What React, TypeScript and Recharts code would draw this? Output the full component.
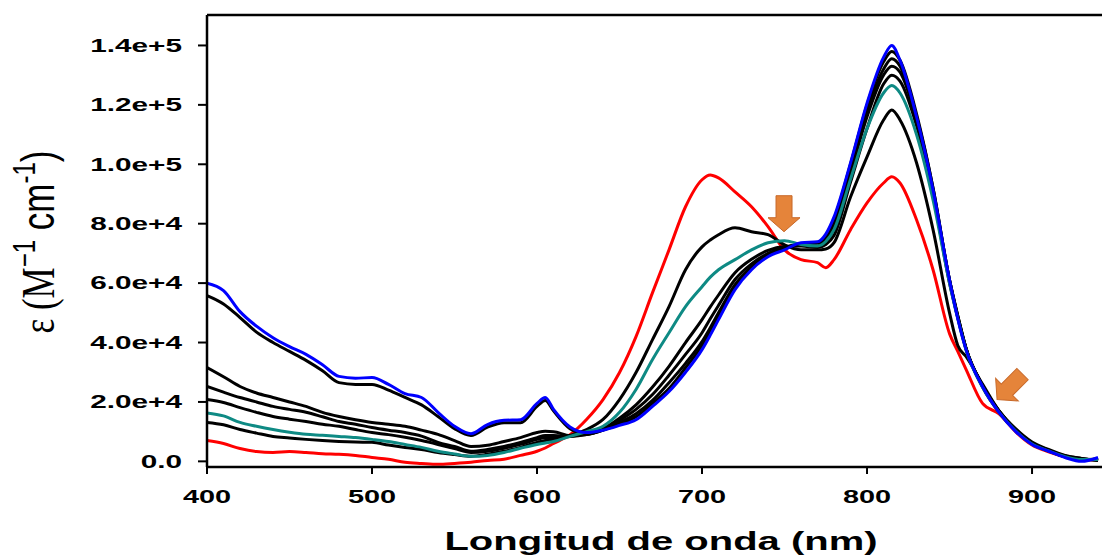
import React from "react";
import { LineChart, Line, XAxis, YAxis, ReferenceLine, ReferenceDot, Label } from "recharts";

// Wavelength grid (nm)
const wavelengths = [400,410,420,430,440,450,460,470,480,490,500,510,520,530,540,550,560,570,580,590,600,605,610,620,630,640,650,660,670,680,690,700,705,710,720,730,740,750,760,770,775,780,790,800,810,815,820,830,840,850,855,860,870,880,890,900,910,920,930,940];

// Series (epsilon, M^-1 cm^-1)
const redSeries = [7000,6000,4300,3300,3000,3300,3000,2600,2400,2000,1300,700,-300,-700,-1000,-700,-300,300,700,2000,3400,4500,6000,9000,14100,20800,29900,42000,56800,71200,85700,94800,96400,95400,90700,85700,79000,71200,67900,66900,65200,67900,78000,87000,93700,95800,93700,81300,64500,43000,37000,31000,19500,16000,10000,5500,3200,1500,300,800];
const black5Series = [13100,12300,10700,9500,8400,7900,7400,7000,6700,6500,6400,5500,4700,4000,3000,2300,1700,2400,3400,4700,6400,7000,7400,8700,10700,14100,20800,29900,41000,52100,64500,72200,74500,76300,78600,77300,76300,72900,71200,71200,71500,73600,89000,102500,114900,118300,114900,100500,78000,50000,39000,35300,26000,17000,11000,6500,4000,2000,1000,300];
const tealSeries = [16300,15300,13100,11800,10700,9800,9100,8800,8400,8000,7400,6700,5700,4700,3400,2500,1700,2000,3000,4400,5700,6200,6700,8400,10000,11800,16500,24200,34300,43300,52100,58800,62000,64500,67900,71200,73600,74300,73000,72500,74000,78000,95000,112000,124000,126500,124000,110000,88000,60000,48000,37500,25000,16500,10300,5800,3500,1600,600,600];
const black4Series = [20800,19800,18100,16500,15100,14200,13400,12500,11800,10700,9700,9000,8100,7000,5700,4300,3000,3400,4400,5700,7400,8000,8000,8400,9400,11000,14500,19000,25000,32000,40000,47700,52000,56000,63500,68000,71000,72300,72500,72000,73000,76000,94000,112000,127000,130000,128000,113000,90000,60000,48500,38000,25000,16500,10500,6000,3500,1500,500,800];
const black3Series = [25200,23300,21500,20000,18500,17500,16500,15000,13400,12500,11400,10500,9700,8500,6400,5000,3400,4000,5000,6400,8000,8700,8700,8400,9000,10800,13800,17500,22500,29000,36000,43300,48000,52500,61200,66500,70000,72000,72800,72300,74000,78000,97000,116000,130000,133000,131000,115000,91000,61000,49000,38000,25500,17000,10800,6200,3800,1800,1000,300];
const black2Series = [31600,28500,25200,23000,21500,20000,18500,16500,15100,14000,13100,12500,11800,10500,9100,7000,5000,5400,6700,8000,9700,10100,10000,8700,9000,10500,13000,16000,20500,26500,33000,40300,45000,50000,59500,65500,69500,72000,73000,72500,75000,80000,99000,118000,132000,135500,133000,116000,92000,61000,49000,38000,25500,17000,10500,6000,3500,1500,500,1000];
const black1Series = [55800,53000,48400,43500,40000,37000,34000,30500,26500,25900,25900,24000,21500,19000,15100,11000,8700,11500,13000,13000,18500,20500,17000,11000,9200,10500,12500,15000,19500,24500,31500,39000,44000,49000,58500,65000,69200,71800,73200,73500,76000,81500,100000,120000,134500,138000,135000,117000,92000,61000,48500,38000,25500,16800,10500,6000,3600,1800,800,500];
const blueSeries = [60000,57500,50400,45500,41600,38600,36000,32500,28600,28000,28200,25900,22800,21500,16500,11800,9300,12400,13800,14000,19500,21500,17500,11600,9700,10500,12100,14000,18500,23500,30000,37600,42500,47700,57800,64500,68900,71200,73600,73900,76500,82300,100500,120600,136000,140000,135000,116000,91400,61000,48000,37600,25200,16500,10100,5700,3400,1300,0,1300];

// Axis ticks
const xTickValues = [400, 500, 600, 700, 800, 900];
const yTickValues = [0, 20000, 40000, 60000, 80000, 100000, 120000, 140000];
const yTickLabels = ["0.0", "2.0e+4", "4.0e+4", "6.0e+4", "8.0e+4", "1.0e+5", "1.2e+5", "1.4e+5"];

// Arrow annotations (tip positions, data units)
const arrowTips = [
  { wl: 749.7, eps: 77300, angle: 0 },
  { wl: 878.8, eps: 20800, angle: 45 },
];

const X_DOMAIN: [number, number] = [400, 942.4];
const Y_DOMAIN: [number, number] = [-1900, 150250];

const data = wavelengths.map((wl, i) => ({
  wl,
  red: redSeries[i],
  b5: black5Series[i],
  teal: tealSeries[i],
  b4: black4Series[i],
  b3: black3Series[i],
  b2: black2Series[i],
  b1: black1Series[i],
  blue: blueSeries[i],
}));

const SANS = "'Liberation Sans', Arial, Helvetica, sans-serif";
const SERIF = "'Liberation Serif', 'Times New Roman', serif";

const YTick = (props: any) => {
  const { x, y, payload } = props;
  const idx = yTickValues.indexOf(payload.value);
  const label = idx >= 0 ? yTickLabels[idx] : "";
  return (
    <g transform={`translate(${x},${y})`}>
      <text transform="scale(1.7,1)" textAnchor="end" dy="0.36em" fontSize={17.5} fontWeight="bold" fontFamily={SANS} fill="#000">
        {label}
      </text>
    </g>
  );
};

const XTick = (props: any) => {
  const { x, y, payload } = props;
  return (
    <g transform={`translate(${x},${y})`}>
      <text transform="scale(1.65,1)" textAnchor="middle" dy="0.71em" fontSize={17.5} fontWeight="bold" fontFamily={SANS} fill="#000">
        {payload.value}
      </text>
    </g>
  );
};

const ArrowShape = (angle: number) => (props: any) => {
  const { cx, cy } = props;
  const pts = "0,0 -16,-14 -8,-14 -8,-36 8,-36 8,-14 16,-14";
  return (
    <g transform={`translate(${cx},${cy}) rotate(${angle})`}>
      <polygon points={pts} fill="#E5843A" stroke="#C8692A" strokeWidth={1} />
    </g>
  );
};

const XTitle = () => (
  <g transform="translate(661,550)">
    <text transform="scale(1.6,1)" textAnchor="middle" fontSize={25} fontWeight="bold" fontFamily={SANS} fill="#000">
      Longitud de onda (nm)
    </text>
  </g>
);

const YTitle = () => (
  <g transform="translate(54,242) scale(1.3,1) rotate(-90)">
    <text textAnchor="middle" fontSize={35} fill="#000" fontFamily={SANS}>
      <tspan fontFamily={SERIF}>ε (M</tspan>
      <tspan fontSize={24} dy={-15}>−1</tspan>
      <tspan dy={15}> cm</tspan>
      <tspan fontSize={24} dy={-15}>-1</tspan>
      <tspan dy={15}>)</tspan>
    </text>
  </g>
);

export default function App() {
  return (
    <div style={{ position: "absolute", left: 0, top: 0, width: 1102, height: 557, background: "#fff" }}>
      <LineChart width={1102} height={557} data={data} margin={{ top: 15, right: 0, bottom: 0, left: 0 }}>
        <XAxis
          dataKey="wl"
          type="number"
          domain={X_DOMAIN}
          allowDataOverflow
          ticks={xTickValues}
          height={90}
          tickSize={7}
          tickMargin={17}
          tick={<XTick />}
          axisLine={{ stroke: "#000", strokeWidth: 2.5 }}
          tickLine={{ stroke: "#000", strokeWidth: 2 }}
        >
          <Label content={<XTitle />} />
        </XAxis>
        <YAxis
          type="number"
          domain={Y_DOMAIN}
          allowDataOverflow
          ticks={yTickValues}
          width={207}
          tickSize={9}
          tickMargin={16}
          tick={<YTick />}
          axisLine={{ stroke: "#000", strokeWidth: 2.5 }}
          tickLine={{ stroke: "#000", strokeWidth: 2 }}
        >
          <Label content={<YTitle />} />
        </YAxis>
        <ReferenceLine y={Y_DOMAIN[1]} stroke="#000" strokeWidth={2.5} />
        <Line type="monotone" dataKey="red" stroke="#FF0000" strokeWidth={3} dot={false} isAnimationActive={false} />
        <Line type="monotone" dataKey="b5" stroke="#000000" strokeWidth={3} dot={false} isAnimationActive={false} />
        <Line type="monotone" dataKey="b4" stroke="#000000" strokeWidth={3} dot={false} isAnimationActive={false} />
        <Line type="monotone" dataKey="b3" stroke="#000000" strokeWidth={3} dot={false} isAnimationActive={false} />
        <Line type="monotone" dataKey="b2" stroke="#000000" strokeWidth={3} dot={false} isAnimationActive={false} />
        <Line type="monotone" dataKey="b1" stroke="#000000" strokeWidth={3} dot={false} isAnimationActive={false} />
        <Line type="monotone" dataKey="teal" stroke="#0E8A84" strokeWidth={3} dot={false} isAnimationActive={false} />
        <Line type="monotone" dataKey="blue" stroke="#0000FF" strokeWidth={3} dot={false} isAnimationActive={false} />
        {arrowTips.map((a, i) => (
          <ReferenceDot key={i} x={a.wl} y={a.eps} r={0} shape={ArrowShape(a.angle)} />
        ))}
      </LineChart>
    </div>
  );
}
